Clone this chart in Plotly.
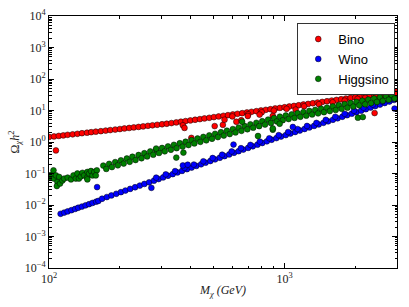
import plotly.graph_objects as go

# ---------------- data ----------------
bino_points = [
    (100, 1.45), (105, 1.50), (110, 1.56), (115, 1.62), (120, 1.69), (126, 1.75), (132, 1.82),
    (138, 1.90), (145, 1.97), (151, 2.05), (158, 2.13), (166, 2.21), (174, 2.30), (182, 2.39),
    (191, 2.48), (200, 2.58), (209, 2.69), (219, 2.79), (229, 2.90), (240, 3.01), (251, 3.13),
    (263, 3.26), (275, 3.39), (288, 3.52), (302, 3.66), (316, 3.80), (331, 3.99), (347, 4.19),
    (363, 4.40), (380, 4.61), (398, 4.84), (417, 5.08), (437, 5.33), (457, 5.60), (479, 5.87),
    (501, 6.17), (525, 6.47), (550, 6.79), (575, 7.13), (603, 7.48), (631, 7.85), (661, 8.24),
    (692, 8.65), (724, 9.08), (759, 9.53), (794, 10.0), (832, 10.5), (871, 11.0), (912, 11.6),
    (955, 12.1), (1000, 12.7), (1047, 13.4), (1096, 14.0), (1148, 14.7), (1202, 15.5),
    (1259, 16.2), (1318, 17.0), (1380, 17.9), (1445, 18.7), (1514, 19.7), (1585, 20.7),
    (1660, 21.7), (1738, 22.8), (1820, 23.9), (1905, 25.1), (1995, 26.3), (2089, 27.6),
    (2188, 29.0), (2291, 30.4), (2399, 31.9), (2512, 33.5), (2630, 35.2), (2754, 36.9),
    (2884, 38.7), (2990, 40.0),
    (600, 6.5), (700, 7.6), (800, 8.8), (900, 9.9), (1020, 11.3), (1210, 13.6), (1400, 15.8),
    (1600, 18.2), (1800, 20.6), (2040, 23.4), (2200, 25.4), (2450, 28.4), (2600, 30.3),
    (2800, 32.7), (2950, 34.6),
    (107, 0.54), (370, 3.4), (376, 2.8), (402, 1.35), (505, 3.2), (547, 3.5), (556, 5.1),
    (624, 4.4), (655, 4.9), (698, 6.7), (783, 7.4), (891, 6.7), (1114, 10.7), (2410, 8.3),
]

wino_points = [
    (112, 0.00525), (116, 0.00573), (120, 0.00626), (124.5, 0.00684), (129, 0.00748),
    (133, 0.00817), (138, 0.00891), (143, 0.00975), (148, 0.01064), (153, 0.01164),
    (158.5, 0.01271), (162, 0.0135),
    (168, 0.0158), (176, 0.0179), (184, 0.0201), (193, 0.0227), (202, 0.0256), (211, 0.0288),
    (221, 0.0325), (232, 0.0366), (243, 0.0413), (254, 0.0466), (266, 0.0525), (279, 0.0592),
    (292, 0.0667), (305, 0.0752), (320, 0.0847), (335, 0.0955), (351, 0.108), (367, 0.121),
    (385, 0.137), (403, 0.154), (422, 0.174), (442, 0.196), (462, 0.221), (484, 0.249),
    (507, 0.281), (531, 0.316), (556, 0.356), (582, 0.402), (610, 0.453), (638, 0.510),
    (668, 0.575), (700, 0.649), (733, 0.731), (767, 0.824), (804, 0.929), (841, 1.05),
    (881, 1.18), (923, 1.33), (966, 1.49), (1012, 1.66), (1059, 1.86), (1109, 2.08),
    (1161, 2.32), (1216, 2.59), (1274, 2.90), (1334, 3.24), (1396, 3.62), (1462, 4.06),
    (1531, 4.53), (1603, 5.07), (1679, 5.66), (1758, 6.33), (1841, 7.08), (1928, 7.91),
    (2018, 8.85), (2113, 9.89), (2213, 11.0), (2317, 12.4), (2427, 13.8), (2541, 15.4),
    (2661, 17.3), (2786, 19.3), (2917, 21.6),
    (285, 0.0738), (313, 0.0938), (343, 0.119), (376, 0.151), (412, 0.192), (452, 0.244),
    (495, 0.310), (543, 0.394), (596, 0.501), (653, 0.637), (716, 0.809), (785, 1.03),
    (861, 1.31), (944, 1.65), (1035, 2.07), (1135, 2.58), (1245, 3.23), (1365, 4.03),
    (1496, 5.04), (1641, 6.30), (1799, 7.87), (1972, 9.84), (2163, 12.3), (2371, 15.3),
    (2600, 19.2), (2851, 24.0),
    (160, 0.037), (272, 0.035), (607, 0.83), (2930, 11.5), (1084, 3.0), (370, 0.18), (388, 0.19),
]

higgsino_points = [
    (100.5, 0.075), (102, 0.09), (104.5, 0.126), (105, 0.069), (107, 0.087), (108.6, 0.054),
    (108, 0.040), (111.4, 0.048), (110.4, 0.078), (114, 0.060), (116, 0.069), (120, 0.074),
    (124, 0.065), (127, 0.087), (130, 0.069), (132, 0.10), (134, 0.069), (136.5, 0.081),
    (138.7, 0.105), (141, 0.087), (145, 0.074), (145.5, 0.112), (148, 0.10), (150.7, 0.12),
    (153, 0.087), (155.6, 0.112), (159.6, 0.126), (158, 0.087), (145.5, 0.065),
    (170, 0.178), (175, 0.140), (180, 0.202), (185, 0.160), (191, 0.230), (196, 0.182),
    (202, 0.262), (207.5, 0.207), (214, 0.299), (220, 0.235), (226, 0.340), (233, 0.268),
    (240, 0.386), (247, 0.305), (254, 0.441), (261, 0.348), (269, 0.501), (277, 0.395),
    (285, 0.570), (293, 0.450), (302, 0.646), (310, 0.506), (320, 0.724), (329, 0.568),
    (339, 0.813), (348, 0.637), (359, 0.912), (369, 0.714), (380, 1.02), (391, 0.802),
    (403, 1.15), (414, 0.900), (427, 1.29), (439, 1.01), (452, 1.45), (465, 1.13),
    (479, 1.62), (492, 1.27), (507, 1.82), (521, 1.43), (537, 2.04), (552, 1.60),
    (569, 2.29), (585, 1.79), (603, 2.57), (619, 2.01), (638, 2.88), (656, 2.26),
    (676, 3.24), (695, 2.54), (716, 3.63), (736, 2.84), (759, 4.07), (780, 3.19),
    (804, 4.57), (826, 3.58), (851, 5.13), (875, 4.02), (902, 5.75), (927, 4.51),
    (955, 6.38), (982, 4.92), (1012, 6.93), (1040, 5.36), (1072, 7.53), (1102, 5.82),
    (1135, 8.20), (1167, 6.32), (1202, 8.91), (1236, 6.87), (1274, 9.68), (1309, 7.48),
    (1349, 10.5), (1387, 8.11), (1429, 11.4), (1469, 8.83), (1514, 12.4), (1556, 9.59),
    (1603, 13.5), (1648, 10.4), (1698, 14.7), (1746, 11.3), (1799, 16.0), (1849, 12.3),
    (1905, 17.3), (1959, 13.4), (2018, 18.8), (2075, 14.6), (2138, 20.5), (2198, 15.8),
    (2265, 22.3), (2328, 17.2), (2399, 24.2), (2466, 18.7), (2541, 26.3), (2612, 20.3),
    (2692, 28.6), (2767, 22.1), (2851, 31.1), (2931, 24.0),
    (285, 0.62), (347, 0.32), (372, 0.46), (660, 4.4), (771, 1.55), (891, 2.45), (891, 2.7),
    (953, 3.8), (2047, 5.9), (2148, 6.2),
]

series_names = ["Bino", "Wino", "Higgsino"]
series_colors = ["#ff0000", "#0000ff", "#008000"]

x_major = [100, 1000]
x_major_text = ["10<sup>2</sup>", "10<sup>3</sup>"]
x_minor = [200, 300, 400, 500, 600, 700, 800, 900, 2000, 3000]

y_major = [1e-4, 1e-3, 1e-2, 1e-1, 1, 10, 100, 1000, 10000]
y_major_text = ["10<sup>\u22124</sup>", "10<sup>\u22123</sup>", "10<sup>\u22122</sup>",
                "10<sup>\u22121</sup>", "10<sup>0</sup>", "10<sup>1</sup>", "10<sup>2</sup>",
                "10<sup>3</sup>", "10<sup>4</sup>"]
y_minor = [m * d for d in y_major[:-1] for m in range(2, 10)]

# ---------------- figure ----------------
fig = go.Figure()
for name, color, pts in zip(series_names, series_colors,
                            [bino_points, wino_points, higgsino_points]):
    xs = [p[0] for p in pts]
    ys = [p[1] for p in pts]
    fig.add_trace(go.Scatter(
        x=xs, y=ys, mode="markers", name=name,
        marker=dict(color=color, size=5.8, line=dict(color="black", width=0.5)),
    ))

serif = "Liberation Serif, DejaVu Serif, serif"
axis_common = dict(
    showline=True, linecolor="black", linewidth=1, mirror="allticks",
    ticks="inside", ticklen=5, tickcolor="black", tickwidth=1,
    showgrid=False, zeroline=False, automargin=False,
    tickfont=dict(family=serif, size=12, color="#222"),
)

fig.update_xaxes(
    type="log", range=[2, 3.4771],
    tickmode="array", tickvals=x_major, ticktext=x_major_text,
    minor=dict(tickmode="array", tickvals=x_minor, ticks="inside", ticklen=2.5,
               tickcolor="black", showgrid=False),
    title=dict(text="<i>M<sub>\u03c7</sub> (GeV)</i>", font=dict(family=serif, size=12, color="#222"),
               standoff=0),
    **axis_common,
)
fig.update_yaxes(
    type="log", range=[-4, 4],
    tickmode="array", tickvals=y_major, ticktext=y_major_text,
    minor=dict(tickmode="array", tickvals=y_minor, ticks="inside", ticklen=2.5,
               tickcolor="black", showgrid=False),
    title=dict(text="\u03a9<sub><i>\u03c7</i></sub><i>h</i><sup>2</sup>",
               font=dict(family=serif, size=12, color="#222"), standoff=2),
    **axis_common,
)

fig.update_layout(
    width=409, height=307,
    margin=dict(l=49, r=12, t=16, b=39, autoexpand=False),
    paper_bgcolor="white", plot_bgcolor="white",
    showlegend=True,
    legend=dict(
        x=0.995, y=0.972, xanchor="right", yanchor="top",
        bgcolor="white", bordercolor="#333", borderwidth=1,
        font=dict(family="Liberation Sans, Arial, sans-serif", size=13, color="black"),
        itemsizing="trace", tracegroupgap=0,
    ),
)

fig.write_html("out.html", config={"displayModeBar": False},
               post_script="document.body.style.margin='0';document.body.style.padding='0';")
